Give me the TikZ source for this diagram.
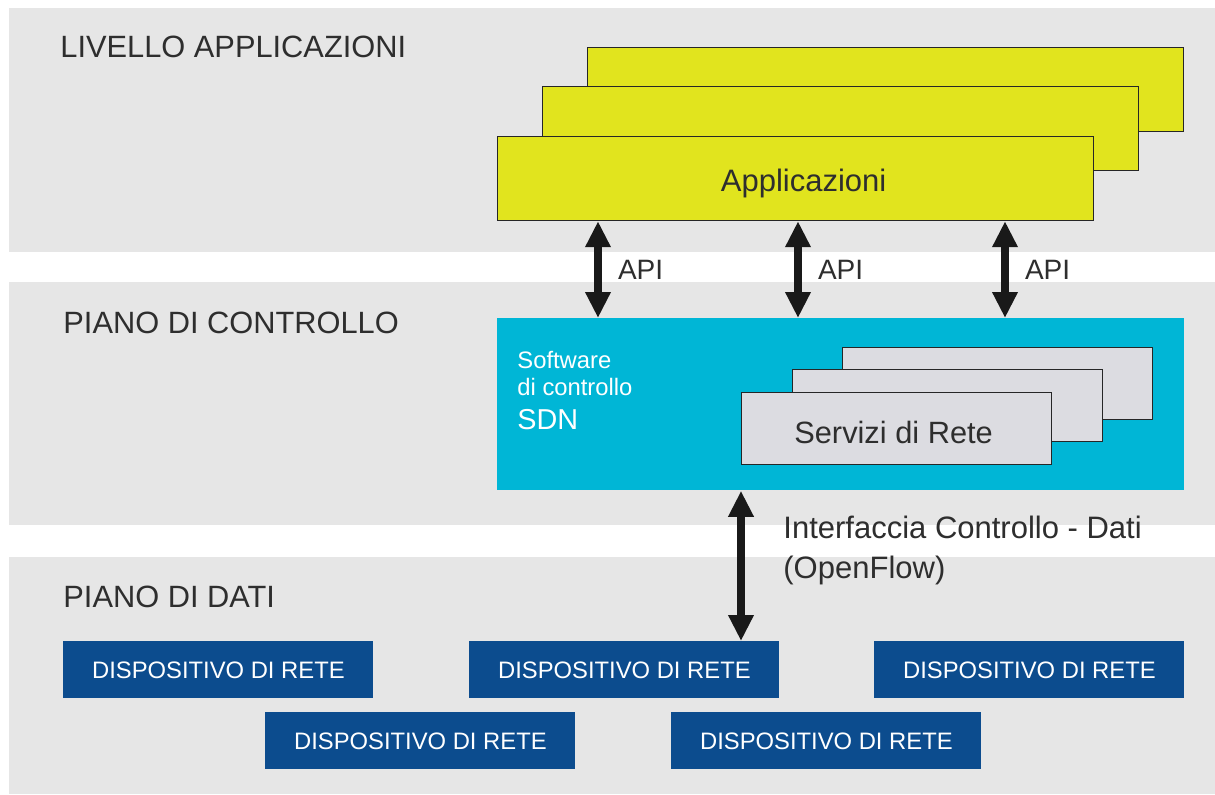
\documentclass[tikz,border=0pt]{standalone}
\usepackage{fontspec}
\setmainfont{Liberation Sans}
\usetikzlibrary{arrows.meta}
\definecolor{bandgray}{HTML}{E6E6E6}
\definecolor{appyellow}{HTML}{E1E41E}
\definecolor{sdncyan}{HTML}{00B6D6}
\definecolor{devblue}{HTML}{0C4C8E}
\definecolor{srvgray}{HTML}{DCDCE1}
\definecolor{labelgray}{HTML}{2E2E2E}
\begin{document}
\begin{tikzpicture}[x=0.5pt,y=-0.5pt,
  band/.style={fill=bandgray},
  appbox/.style={draw=black!85, line width=0.6pt, fill=appyellow, minimum width=298pt, minimum height=42pt, anchor=north west, inner sep=0pt, text=labelgray, font=\fontsize{15.5}{18}\selectfont},
  srvbox/.style={draw=black!85, line width=0.6pt, fill=srvgray, minimum width=155pt, minimum height=36pt, anchor=north west, inner sep=0pt, text=labelgray, font=\fontsize{15.4}{18}\selectfont},
  devbox/.style={fill=devblue, minimum width=155pt, minimum height=28.5pt, anchor=north west, inner sep=0pt, text=white, font=\fontsize{11.9}{14}\selectfont},
  sdnbox/.style={fill=sdncyan, minimum width=343.5pt, minimum height=86pt, anchor=north west, inner sep=0pt},
  layerlabel/.style={anchor=base west, inner sep=0pt, text=labelgray, font=\fontsize{15.4}{18}\selectfont},
  sdntext/.style={anchor=base west, inner sep=0pt, text=white, font=\fontsize{11.9}{14}\selectfont},
  apilabel/.style={anchor=west, inner sep=0pt, text=labelgray, font=\fontsize{14}{16}\selectfont},
  dbl/.style={line width=4pt, draw=black!90, {Triangle[width=12pt,length=13pt]}-{Triangle[width=12pt,length=13pt]}}
]
\useasboundingbox (0,0) rectangle (1215,794);
\fill[white] (0,0) rectangle (1215,794);
% bands
\fill[band] (9,8) rectangle (1215,252);
\fill[band] (9,282) rectangle (1215,525);
\fill[band] (9,557) rectangle (1215,794);
% layer labels
\node[layerlabel] (l1) at (60,57) {LIVELLO APPLICAZIONI};
\node[layerlabel] (l2) at (63,333) {PIANO DI CONTROLLO};
\node[layerlabel] (l3) at (63,607) {PIANO DI DATI};
% application boxes
\node[appbox] (app3) at (587,47) {};
\node[appbox] (app2) at (542,86) {};
\node[appbox] (app1) at (497,136) {};
\node[text=labelgray, font=\fontsize{15.5}{18}\selectfont, inner sep=0pt] (apptext) at ([xshift=4pt,yshift=-2.5pt]app1.center) {Applicazioni};
% SDN box
\node[sdnbox] (sdn) at (497,318) {};
\node[sdntext] (sw1) at (517,368) {Software};
\node[sdntext] (sw2) at (517,395) {di controllo};
\node[sdntext, font=\fontsize{14.4}{16}\selectfont] (sw3) at (517,429) {SDN};
% services
\node[srvbox] (srv3) at (842,347) {};
\node[srvbox] (srv2) at (792,369) {};
\node[srvbox] (srv1) at (741,392) {};
\node[text=labelgray, font=\fontsize{15.4}{18}\selectfont, inner sep=0pt] (srvtext) at ([xshift=-1.5pt,yshift=-2pt]srv1.center) {Servizi di Rete};
% API arrows
\path (app1.south west) ++(101,0) coordinate (a1);
\path (app1.south west) ++(301,0) coordinate (a2);
\path (app1.south west) ++(508,0) coordinate (a3);
\draw[dbl] (a1) -- (a1 |- sdn.north) node[midway, apilabel, xshift=8pt] (api1) {API};
\draw[dbl] (a2) -- (a2 |- sdn.north) node[midway, apilabel, xshift=8pt] (api2) {API};
\draw[dbl] (a3) -- (a3 |- sdn.north) node[midway, apilabel, xshift=8pt] (api3) {API};
% devices
\node[devbox] (dev1) at (63,641) {DISPOSITIVO DI RETE};
\node[devbox] (dev2) at (469,641) {DISPOSITIVO DI RETE};
\node[devbox] (dev3) at (874,641) {DISPOSITIVO DI RETE};
\node[devbox] (dev4) at (265,712) {DISPOSITIVO DI RETE};
\node[devbox] (dev5) at (671,712) {DISPOSITIVO DI RETE};
% control-data interface
\path (dev2.north west) ++(272,0) coordinate (of);
\draw[dbl] (of |- sdn.south) -- (of);
\node[anchor=north west, inner sep=0pt, align=left, text=labelgray, font=\fontsize{15.5}{20}\selectfont] (ofl) at (783,516) {Interfaccia Controllo - Dati\\(OpenFlow)};
\end{tikzpicture}
\end{document}
